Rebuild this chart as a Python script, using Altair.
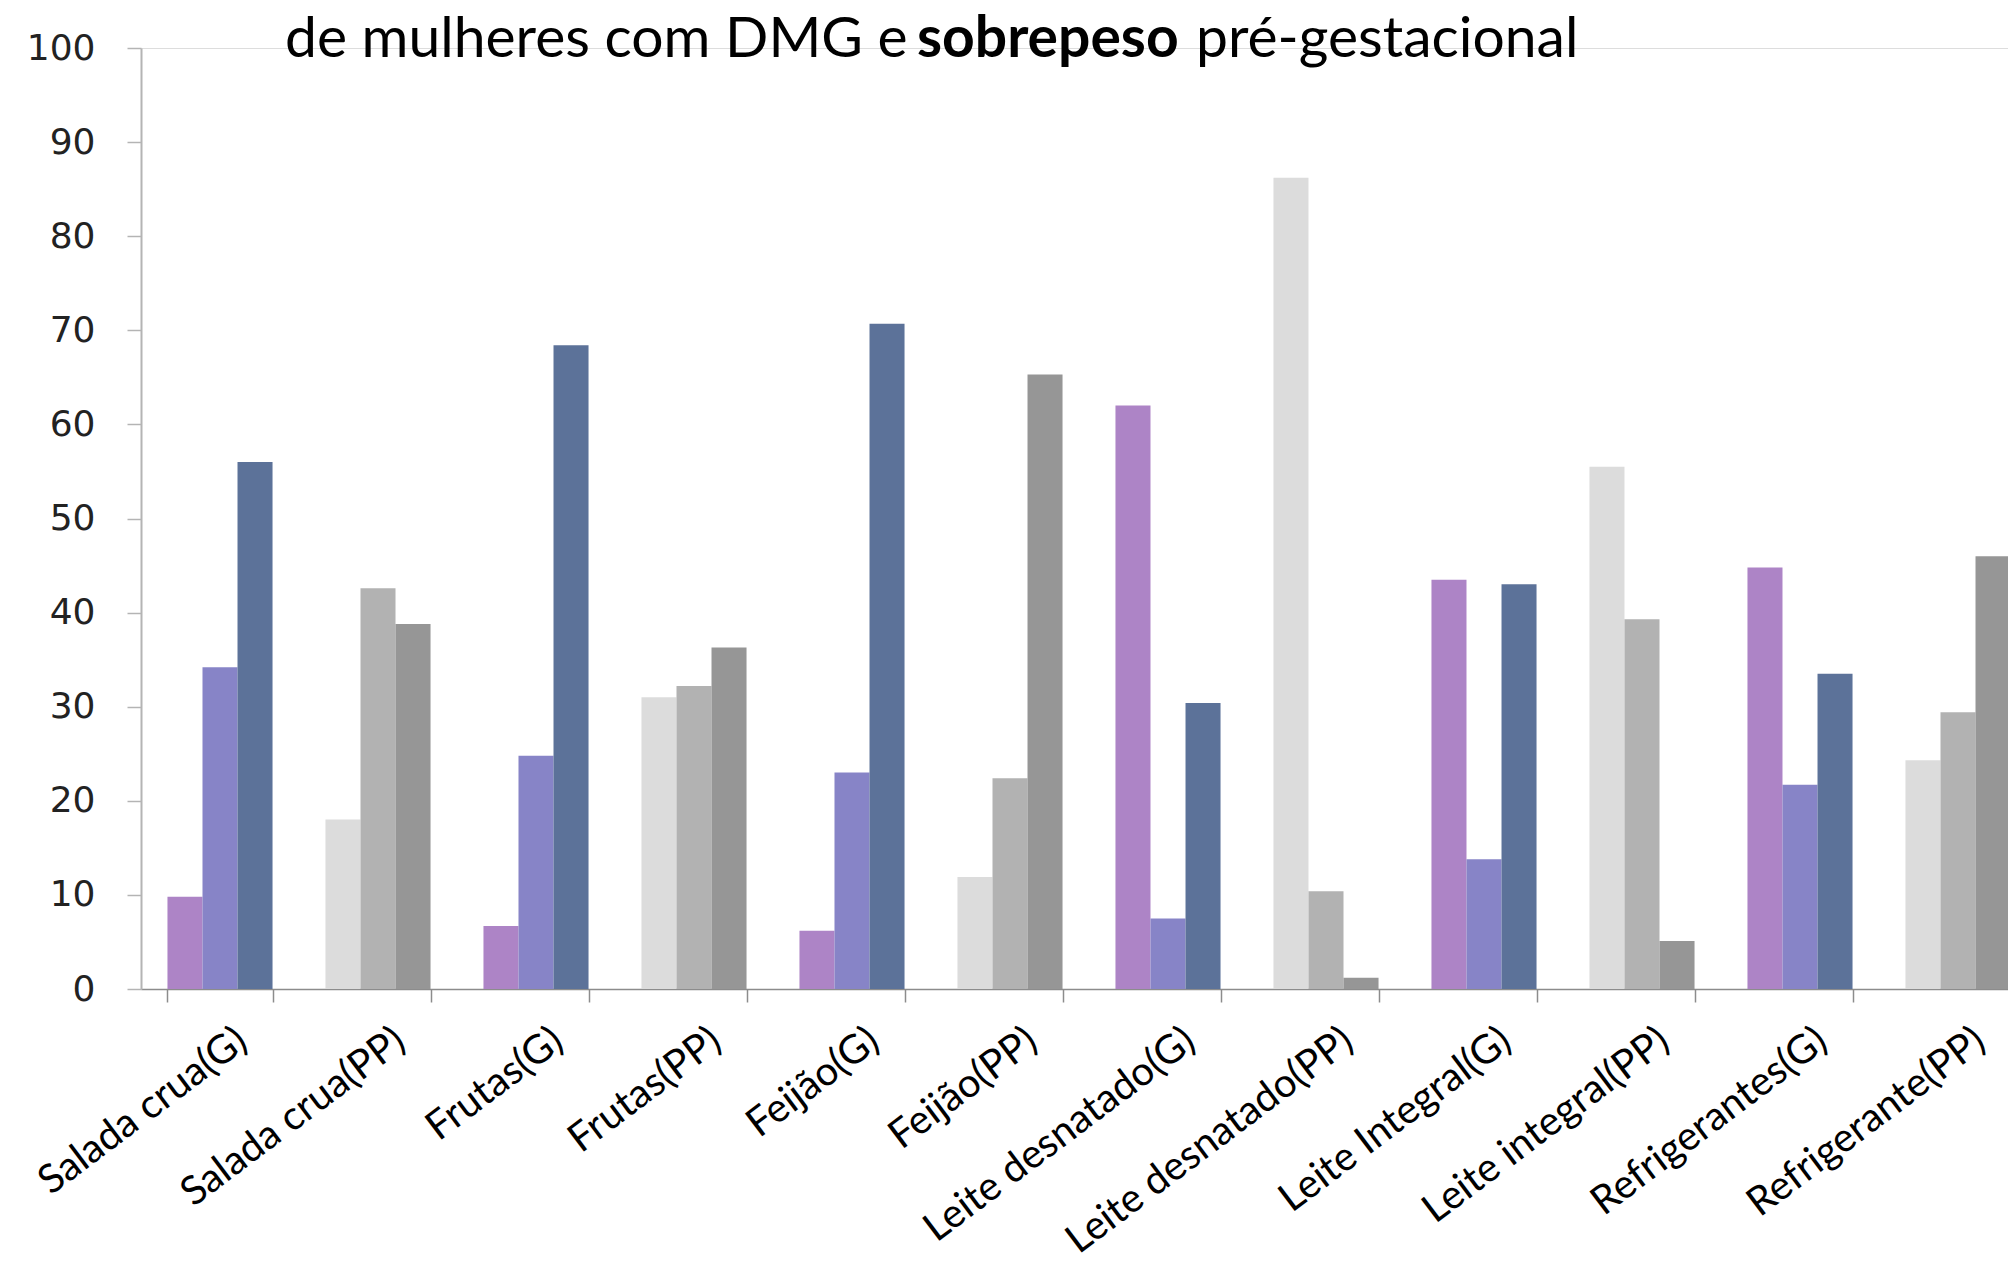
import altair as alt
import pandas as pd

categorias = [
    "Salada crua(G)", "Salada crua(PP)", "Frutas(G)", "Frutas(PP)",
    "Feijão(G)", "Feijão(PP)", "Leite desnatado(G)", "Leite desnatado(PP)",
    "Leite Integral(G)", "Leite integral(PP)", "Refrigerantes(G)", "Refrigerante(PP)",
]
serie1 = [9.8, 18.0, 6.7, 31.0, 6.2, 11.9, 62.0, 86.2, 43.5, 55.5, 44.8, 24.3]
serie2 = [34.2, 42.6, 24.8, 32.2, 23.0, 22.4, 7.5, 10.4, 13.8, 39.3, 21.7, 29.4]
serie3 = [56.0, 38.8, 68.4, 36.3, 70.7, 65.3, 30.4, 1.2, 43.0, 5.1, 33.5, 46.0]

cores_g = ["#AD84C6", "#8784C7", "#5C7299"]
cores_pp = ["#DCDCDC", "#B2B2B2", "#969696"]
titulo_partes = ["de mulheres com DMG e", "sobrepeso", "pré-gestacional"]
y_ticks = list(range(0, 101, 10))

rows = []
for i, c in enumerate(categorias):
    grupo = "PP" if c.endswith("(PP)") else "G"
    for k, vals in enumerate([serie1, serie2, serie3]):
        rows.append({"categoria": c, "ordem": k + 1,
                     "serie": f"{grupo}{k + 1}", "valor": vals[i]})
df = pd.DataFrame(rows)

color_domain = ["G1", "G2", "G3", "PP1", "PP2", "PP3"]
color_range = cores_g + cores_pp

STEP = 158
W = 1867
H = 941

bars = alt.Chart(df).mark_bar().encode(
    x=alt.X(
        "categoria:N", sort=categorias,
        scale=alt.Scale(range=[0, STEP * len(categorias)], paddingInner=0.335, paddingOuter=0.1675),
        axis=alt.Axis(
            title=None, labelAngle=-37, labelAlign="right", labelBaseline="middle",
            labelFont="Lato", labelFontSize=40, labelColor="#000000",
            labelPadding=34, labelOffset=22, tickBand="extent", tickSize=13,
            tickColor="#8C8C8C", domainColor="#8C8C8C", tickWidth=1.5, domainWidth=1.5,
            labelOverlap=False, labelLimit=0,
        ),
    ),
    xOffset=alt.XOffset("ordem:O", scale=alt.Scale(paddingInner=0, paddingOuter=0)),
    y=alt.Y(
        "valor:Q", scale=alt.Scale(domain=[0, 100], nice=False),
        axis=alt.Axis(
            values=y_ticks, title=None, grid=False, labelFont="DejaVu Sans",
            labelFontSize=36, labelColor="#222222", tickSize=14, labelPadding=32,
            tickColor="#B4B4B4", domainColor="#B4B4B4", tickWidth=1.5, domainWidth=2,
        ),
    ),
    color=alt.Color("serie:N", scale=alt.Scale(domain=color_domain, range=color_range), legend=None),
)

def parte(texto, xpos, peso):
    return alt.Chart(pd.DataFrame({"t": [texto]})).mark_text(
        align="left", baseline="alphabetic", font="Lato", fontSize=57,
        fontWeight=peso, color="#000000",
    ).encode(text="t:N", x=alt.value(xpos), y=alt.value(9))

titulo = (
    parte(titulo_partes[0], 144, "normal")
    + parte(titulo_partes[1], 776, "bold")
    + parte(titulo_partes[2], 1055, "normal")
)

chart = alt.layer(bars, titulo).properties(
    width=W, height=H,
    autosize=alt.AutoSizeParams(type="none"),
    padding={"left": 133, "top": 40, "right": 0, "bottom": 274},
).configure_view(stroke=None).configure(background="#FFFFFF")

chart.save("out.html", embed_options={"renderer": "svg", "actions": False})
